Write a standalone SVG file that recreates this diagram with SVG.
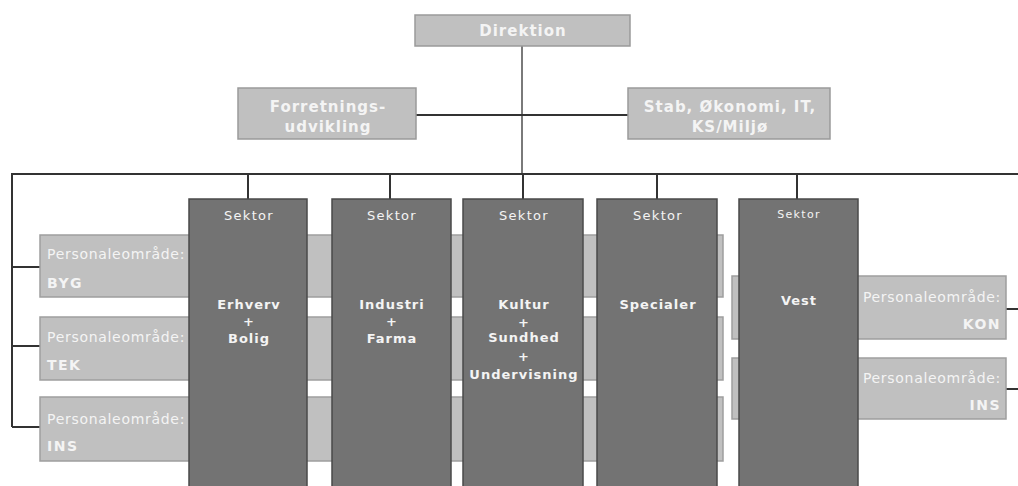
<svg xmlns="http://www.w3.org/2000/svg" width="1018" height="486" viewBox="0 0 1018 486">
<style>
.top{fill:#c0c0c0;stroke:#9a9a9a;stroke-width:1.5}
.pa{fill:#c0c0c0;stroke:#9e9e9e;stroke-width:1.5}
.sek{fill:#737373;stroke:#4a4a4a;stroke-width:1.5}
.tb{font-family:"DejaVu Sans",Verdana,sans-serif;font-weight:bold;font-size:15px;letter-spacing:1px;fill:#f4f4f4;text-anchor:middle}
.pl{font-family:"DejaVu Sans",Verdana,sans-serif;font-size:14px;letter-spacing:0.7px;fill:#f4f4f4}
.pc{font-family:"DejaVu Sans",Verdana,sans-serif;font-weight:bold;font-size:14px;letter-spacing:1.5px;fill:#f4f4f4}
.st{font-family:"DejaVu Sans",Verdana,sans-serif;font-size:13px;letter-spacing:1.3px;fill:#f4f4f4;text-anchor:middle}
.sn{font-family:"DejaVu Sans",Verdana,sans-serif;font-weight:bold;font-size:13px;letter-spacing:1px;fill:#f4f4f4;text-anchor:middle}
.ln{stroke:#333;stroke-width:2;fill:none}
</style>
<rect width="1018" height="486" fill="#fff"/>
<g id="connectors">
  <line class="ln" x1="522" y1="46" x2="522" y2="174" style="stroke:#7a7a7a"/>
  <line class="ln" x1="416" y1="115" x2="628" y2="115"/>
  <line class="ln" x1="12" y1="174" x2="1018" y2="174"/>
  <line class="ln" x1="12" y1="173" x2="12" y2="427"/>
  <line class="ln" x1="12" y1="267" x2="40" y2="267"/>
  <line class="ln" x1="12" y1="346" x2="40" y2="346"/>
  <line class="ln" x1="12" y1="427" x2="40" y2="427"/>
  <line class="ln" x1="248" y1="174" x2="248" y2="199"/>
  <line class="ln" x1="390" y1="174" x2="390" y2="199"/>
  <line class="ln" x1="523" y1="174" x2="523" y2="199"/>
  <line class="ln" x1="657" y1="174" x2="657" y2="199"/>
  <line class="ln" x1="797" y1="174" x2="797" y2="199"/>
  <line class="ln" x1="1006" y1="309" x2="1018" y2="309"/>
  <line class="ln" x1="1006" y1="389" x2="1018" y2="389"/>
</g>
<g id="direktion">
  <rect class="top" x="415" y="15" width="215" height="31"/>
  <text class="tb" x="523" y="36">Direktion</text>
</g>
<g id="forretningsudvikling">
  <rect class="top" x="238" y="88" width="178" height="51"/>
  <text class="tb" x="328" y="112">Forretnings-</text>
  <text class="tb" x="328" y="132">udvikling</text>
</g>
<g id="stab">
  <rect class="top" x="628" y="88" width="202" height="51"/>
  <text class="tb" x="730" y="112">Stab, Økonomi, IT,</text>
  <text class="tb" x="730" y="132">KS/Miljø</text>
</g>
<g id="pa-byg">
  <rect class="pa" x="40" y="235" width="683" height="62"/>
  <text class="pl" x="47" y="259">Personaleområde:</text>
  <text class="pc" x="47" y="288">BYG</text>
</g>
<g id="pa-tek">
  <rect class="pa" x="40" y="317" width="683" height="63"/>
  <text class="pl" x="47" y="342">Personaleområde:</text>
  <text class="pc" x="47" y="370">TEK</text>
</g>
<g id="pa-ins-left">
  <rect class="pa" x="40" y="397" width="683" height="64"/>
  <text class="pl" x="47" y="424">Personaleområde:</text>
  <text class="pc" x="47" y="451">INS</text>
</g>
<g id="pa-kon">
  <rect class="pa" x="732" y="276" width="274" height="63"/>
  <text class="pl" x="1001" y="302" text-anchor="end">Personaleområde:</text>
  <text class="pc" x="1001" y="329" text-anchor="end">KON</text>
</g>
<g id="pa-ins-right">
  <rect class="pa" x="732" y="358" width="274" height="61"/>
  <text class="pl" x="1001" y="383" text-anchor="end">Personaleområde:</text>
  <text class="pc" x="1001" y="410" text-anchor="end">INS</text>
</g>
<g id="sektor-erhverv">
  <rect class="sek" x="189" y="199" width="118" height="300"/>
  <text class="st" x="249" y="220">Sektor</text>
  <text class="sn" x="249" y="309">Erhverv</text>
  <text class="sn" x="249" y="326">+</text>
  <text class="sn" x="249" y="343">Bolig</text>
</g>
<g id="sektor-industri">
  <rect class="sek" x="332" y="199" width="119" height="300"/>
  <text class="st" x="392" y="220">Sektor</text>
  <text class="sn" x="392" y="309">Industri</text>
  <text class="sn" x="392" y="326">+</text>
  <text class="sn" x="392" y="343">Farma</text>
</g>
<g id="sektor-kultur">
  <rect class="sek" x="463" y="199" width="120" height="300"/>
  <text class="st" x="524" y="220">Sektor</text>
  <text class="sn" x="524" y="309">Kultur</text>
  <text class="sn" x="524" y="327">+</text>
  <text class="sn" x="524" y="342">Sundhed</text>
  <text class="sn" x="524" y="361">+</text>
  <text class="sn" x="524" y="379">Undervisning</text>
</g>
<g id="sektor-specialer">
  <rect class="sek" x="597" y="199" width="120" height="300"/>
  <text class="st" x="658" y="220">Sektor</text>
  <text class="sn" x="658" y="309">Specialer</text>
</g>
<g id="sektor-vest">
  <rect class="sek" x="739" y="199" width="119" height="300"/>
  <text class="st" x="799" y="218" style="font-size:11px">Sektor</text>
  <text class="sn" x="799" y="305">Vest</text>
</g>
</svg>
